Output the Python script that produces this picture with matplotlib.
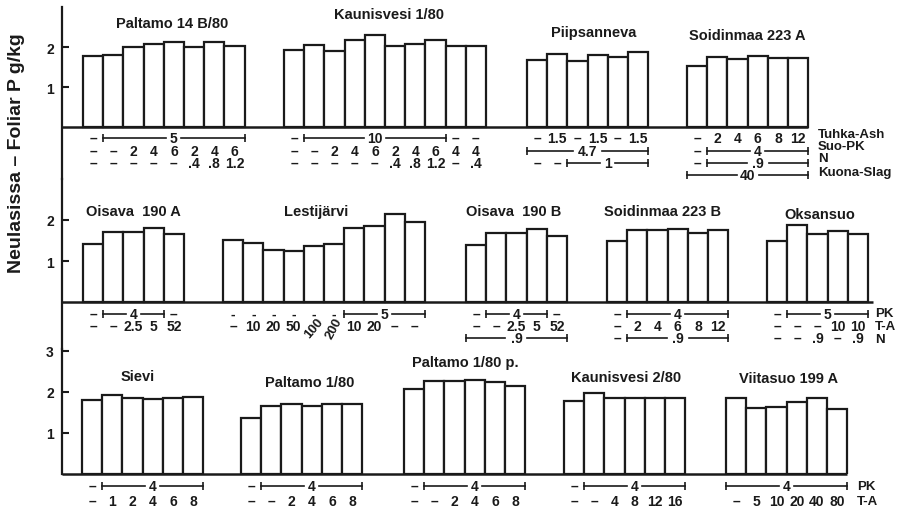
import numpy as np
import matplotlib.pyplot as plt
from matplotlib.transforms import offset_copy

plt.rcParams['font.family'] = ['Liberation Sans', 'DejaVu Sans']
plt.rcParams['font.weight'] = 'bold'
INK = '#1a1a1a'

# Foliar P, g/kg
paltamo_14b = [1.78, 1.80, 1.99, 2.07, 2.12, 2.00, 2.12, 2.02]
kaunisvesi_1 = [1.93, 2.06, 1.89, 2.18, 2.31, 2.03, 2.07, 2.18, 2.03, 2.03]
piipsanneva = [1.68, 1.83, 1.64, 1.80, 1.74, 1.88]
soidinmaa_a = [1.53, 1.74, 1.70, 1.78, 1.72, 1.73]

oisava_a = [1.41, 1.70, 1.70, 1.80, 1.66]
lestijarvi = [1.51, 1.43, 1.27, 1.24, 1.36, 1.41, 1.80, 1.86, 2.15, 1.94]
oisava_b = [1.39, 1.68, 1.68, 1.78, 1.62]
soidinmaa_b = [1.48, 1.76, 1.75, 1.78, 1.68, 1.76]
oksansuo = [1.50, 1.89, 1.66, 1.72, 1.66]

sievi = [1.80, 1.93, 1.85, 1.83, 1.85, 1.87]
paltamo_1 = [1.36, 1.65, 1.70, 1.65, 1.70, 1.70]
paltamo_1p = [2.07, 2.28, 2.27, 2.29, 2.24, 2.15]
kaunisvesi_2 = [1.79, 1.98, 1.85, 1.85, 1.85, 1.85]
viitasuo = [1.85, 1.60, 1.63, 1.76, 1.85, 1.59]


def rot(text, angle):
    return {'text': text, 'rotation': angle}


# treatment rows under each site: a string sits under one bar,
# (label, n) spans a bracket over n bars
D = '–'
paltamo_14b_rows = [
    [D, ('5', 7)],
    [D, D, '2', '4', '6', '2', '4', '6'],
    [D, D, D, D, D, '.4', '.8', '1.2'],
]
kaunisvesi_1_rows = [
    [D, ('10', 7), D, D],
    [D, D, '2', '4', '6', '2', '4', '6', '4', '4'],
    [D, D, D, D, D, '.4', '.8', '1.2', D, '.4'],
]
piipsanneva_rows = [
    [D, '1.5', D, '1.5', D, '1.5'],
    [('4.7', 6)],
    [D, D, ('1', 4)],
]
soidinmaa_a_rows = [
    [D, '2', '4', '6', '8', '12'],
    [D, ('4', 5)],
    [D, ('.9', 5)],
    [('40', 6)],
]
oisava_a_rows = [
    [D, ('4', 3), D],
    [D, D, '2.5', '5', '52'],
]
lestijarvi_rows = [
    ['-', '-', '-', '-', '-', '-', ('5', 4)],
    [D, '10', '20', '50', rot('100', 50), rot('200', 62), '10', '20', D, D],
]
oisava_b_rows = [
    [D, ('4', 3), D],
    [D, D, '2.5', '5', '52'],
    [('.9', 5)],
]
soidinmaa_b_rows = [
    [D, ('4', 5)],
    [D, '2', '4', '6', '8', '12'],
    [D, ('.9', 5)],
]
oksansuo_rows = [
    [D, ('5', 4)],
    [D, D, D, '10', '10'],
    [D, D, '.9', D, '.9'],
]
sievi_rows = [[D, ('4', 5)], [D, '1', '2', '4', '6', '8']]
paltamo_1_rows = [[D, ('4', 5)], [D, D, '2', '4', '6', '8']]
paltamo_1p_rows = [[D, ('4', 5)], [D, D, '2', '4', '6', '8']]
kaunisvesi_2_rows = [[D, ('4', 5)], [D, D, '4', '8', '12', '16']]
viitasuo_rows = [[('4', 6)], [D, '5', '10', '20', '40', '80']]

names_top = ['Tuhka-Ash', 'Suo-PK', 'N', 'Kuona-Slag']
names_mid = ['PK', 'T-A', 'N']
names_low = ['PK', 'T-A']

# layout, in pixels of the 903x510 canvas (x data units are pixels too)
W, H = 903, 510
X0 = 62
BAR_W = 20.2
SMALL = 9.5

panels = [
    dict(top=8, base=128, bottom=180, unit=40, ticks=[1, 2],
         sites=[('Paltamo 14 B/80', paltamo_14b, paltamo_14b_rows, 83, (172, 24)),
                ('Kaunisvesi 1/80', kaunisvesi_1, kaunisvesi_1_rows, 284, (389, 15)),
                ('Piipsanneva', piipsanneva, piipsanneva_rows, 527, (594, 33)),
                ('Soidinmaa 223 A', soidinmaa_a, soidinmaa_a_rows, 687, (747, 36))],
         rows=[11, 24, 36, 48], names=names_top, name_x=818,
         name_rows=[7, 19, 31, 45], base_end=808),
    dict(top=180, base=303, bottom=350, unit=41, ticks=[1, 2],
         sites=[('Oisava  190 A', oisava_a, oisava_a_rows, 83, (133, 212)),
                ('Lestijärvi', lestijarvi, lestijarvi_rows, 223, (316, 212)),
                ('Oisava  190 B', oisava_b, oisava_b_rows, 466, (514, 212)),
                ('Soidinmaa 223 B', soidinmaa_b, soidinmaa_b_rows, 607, (663, 212)),
                ('Oksansuo', oksansuo, oksansuo_rows, 767, (820, 215))],
         rows=[12, 24, 36], names=names_mid, name_x=875,
         name_rows=[11, 24, 37], base_end=873),
    dict(top=350, base=475, bottom=475, unit=41, ticks=[1, 2, 3],
         sites=[('Sievi', sievi, sievi_rows, 82, (138, 377)),
                ('Paltamo 1/80', paltamo_1, paltamo_1_rows, 241, (310, 383)),
                ('Paltamo 1/80 p.', paltamo_1p, paltamo_1p_rows, 404, (465, 363)),
                ('Kaunisvesi 2/80', kaunisvesi_2, kaunisvesi_2_rows, 564, (626, 378)),
                ('Viitasuo 199 A', viitasuo, viitasuo_rows, 726, (789, 379))],
         rows=[12, 27], names=names_low, name_x=857,
         name_rows=[12, 27], base_end=847),
]

fig = plt.figure(figsize=(W / 100, H / 100), dpi=100)

for p in panels:
    ax = fig.add_axes([X0 / W, 1 - p['bottom'] / H, (W - X0) / W,
                       (p['bottom'] - p['top']) / H])
    ax.set_xlim(X0, W)
    ax.set_ylim((p['base'] - p['bottom']) / p['unit'], (p['base'] - p['top']) / p['unit'])
    for s in ['top', 'right', 'bottom']:
        ax.spines[s].set_visible(False)
    ax.spines['left'].set_linewidth(1.6)
    ax.spines['left'].set_color(INK)
    ax.set_xticks([])
    ax.set_yticks(p['ticks'])
    ax.tick_params(axis='y', direction='in', length=5, width=1.5, pad=6,
                   labelsize=10, colors=INK)
    ax.patch.set_visible(False)
    ax.hlines(0, X0, p['base_end'], color=INK, lw=1.8, clip_on=False)

    def row_tr(off):
        return offset_copy(ax.transData, fig=fig, x=0, y=-off, units='dots')

    for title, vals, rows, start, (tx, ty) in p['sites']:
        n = len(vals)
        x = start + BAR_W * (np.arange(n) + 0.5)
        ax.bar(x, vals, width=BAR_W, facecolor='white', edgecolor=INK,
               linewidth=1.6, zorder=3)
        ax.text(tx, (p['base'] - ty) / p['unit'], title, ha='center', va='center',
                fontsize=10.5, color=INK)

        for row, off in zip(rows, p['rows']):
            tr = row_tr(off)
            i = 0
            for tok in row:
                if isinstance(tok, tuple):
                    # |---- label ----| bracket, the line broken around its label
                    label, span = tok
                    left = start + BAR_W * i
                    right = start + BAR_W * (i + span)
                    mid = (left + right) / 2
                    gap = 3.5 * len(label) + 4
                    for a, b, m in [(left, mid - gap, 0), (mid + gap, right, -1)]:
                        ax.plot([a, b], [0, 0], transform=tr, color=INK, lw=1.2,
                                marker='|', markevery=[m], markersize=6,
                                markeredgewidth=1.2, clip_on=False)
                    ax.text(mid, 0, label, transform=tr, ha='center', va='center',
                            fontsize=SMALL + 0.5, color=INK)
                    i += span
                elif isinstance(tok, dict):
                    ax.text(x[i], 0, tok['text'], transform=row_tr(off + 2),
                            rotation=tok['rotation'], rotation_mode='anchor',
                            ha='center', va='center', fontsize=SMALL, color=INK)
                    i += 1
                else:
                    ax.text(x[i], 0, tok, transform=tr, ha='center', va='center',
                            fontsize=SMALL + 0.5, color=INK)
                    i += 1

    for name, off in zip(p['names'], p['name_rows']):
        ax.text(p['name_x'], 0, name, transform=row_tr(off), ha='left', va='center',
                fontsize=SMALL, color=INK)

fig.text(17 / W, 1 - 153 / H, 'Neulasissa – Foliar P g/kg', rotation=90,
         ha='center', va='center', fontsize=14, color=INK)

fig.savefig('out.png', dpi=100, facecolor='white')
